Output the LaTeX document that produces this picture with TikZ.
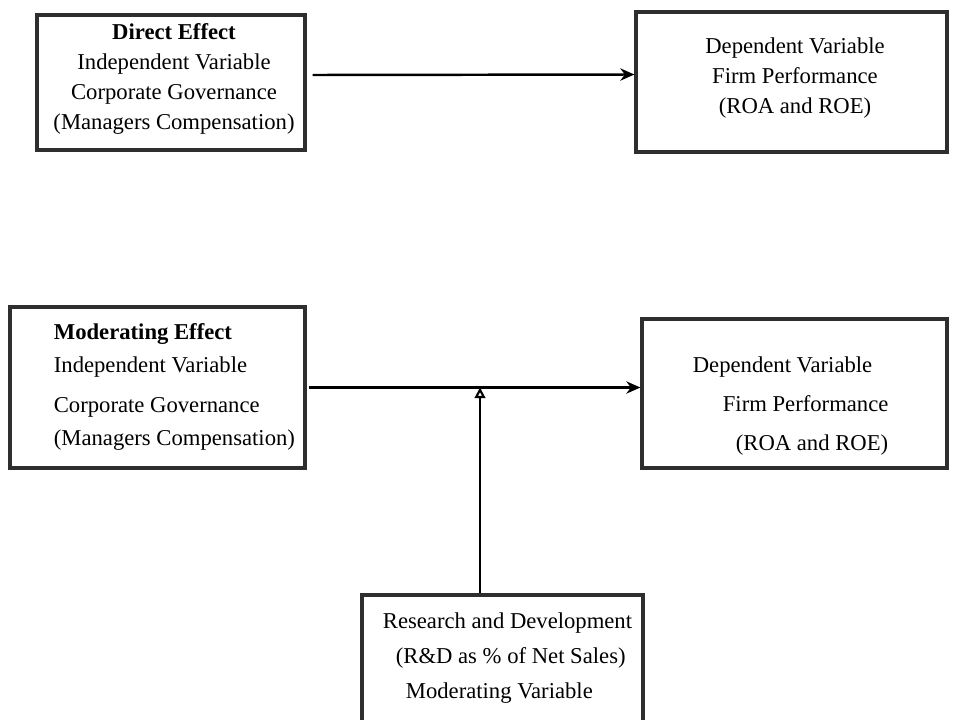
\documentclass[tikz,border=0pt]{standalone}
\usepackage{fontspec}
\setmainfont{Liberation Serif}
\usetikzlibrary{arrows.meta}
\tikzset{
every picture/.style={line width=1pt, x=0.02cm, y=-0.02cm,
                       >={Stealth[length=8pt,width=7pt]}},
%%%%%%%%%%  Node styles
varbox/.style={draw=black!82, line width=1.9pt, inner sep=0pt},
boxtext/.style={align=center, inner sep=0pt,
                font=\fontsize{12.9}{17.2}\selectfont},
lefttext/.style={align=left, anchor=west, inner sep=0pt,
                 font=\fontsize{12.9}{#1}\selectfont},
lefttext/.default=18.8,
%%%% different line styles:
effect/.style={->, line width=1.4pt},
moderator/.style={-{Triangle[open,length=6pt,width=6pt]}, line width=1.2pt}
}

\begin{document}
\begin{tikzpicture}
\useasboundingbox (0,0) rectangle (957,720);
\clip (0,0) rectangle (957,720);
%%%% direct effect
\node[varbox, minimum width=5.36cm, minimum height=2.7cm] (direct_box) at (171,82.5) {};
\node[boxtext] (direct_text) at (174,79) {\textbf{Direct Effect}\\Independent Variable\\Corporate Governance\\(Managers Compensation)};
\node[varbox, minimum width=6.22cm, minimum height=2.8cm] (perf_box) at (791.5,82) {};
\node[boxtext] (perf_text) at (795,78) {Dependent Variable\\Firm Performance\\(ROA and ROE)};
\draw[effect] ([shift={(0.12cm,0.15cm)}]direct_box.east) -- ([yshift=0.15cm]perf_box.west);
%%%% moderating effect
\node[varbox, minimum width=5.9cm, minimum height=3.22cm] (mod_box) at (157.5,387.5) {};
\node[lefttext=18.8] (mod_text) at (53,387) {\textbf{Moderating Effect}\\Independent Variable\\[0.14cm]Corporate Governance\\(Managers Compensation)};
\node[varbox, minimum width=6.1cm, minimum height=2.98cm] (perf2_box) at (794.5,393.5) {};
\node[lefttext=22] (perf2_text) at (692,406) {Dependent Variable\\\hspace*{0.6cm}Firm Performance\\\hspace*{0.86cm}(ROA and ROE)};
\node[varbox, minimum width=5.62cm, minimum height=3.3cm] (rnd_box) at (502.5,677.5) {};
\node[lefttext=19.9] (rnd_text) at (382,658) {Research and Development\\\hspace*{0.26cm}(R\&D as \% of Net Sales)\\\hspace*{0.46cm}Moderating Variable};
\draw[effect] ([xshift=0.04cm]mod_box.east) -- (mod_box.east -| perf2_box.west);
\draw[moderator] ([xshift=-0.45cm]rnd_box.north) -- ([xshift=-0.45cm]rnd_box.north |- mod_box.east);
\end{tikzpicture}
\end{document}
